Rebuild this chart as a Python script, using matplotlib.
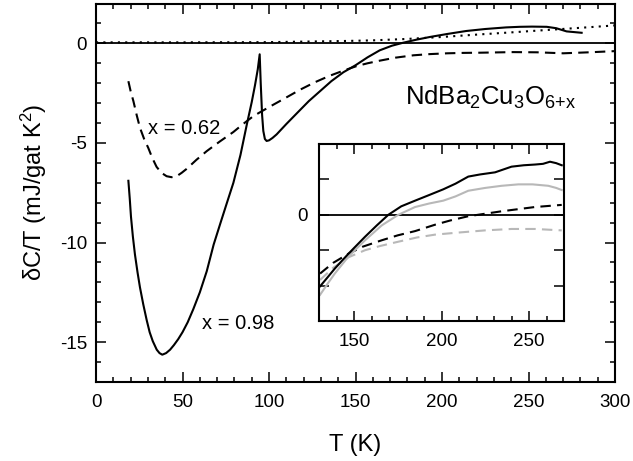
import matplotlib
matplotlib.use("Agg")
import matplotlib.pyplot as plt
from matplotlib.ticker import MultipleLocator, FixedLocator, FixedFormatter

plt.rcParams['font.family'] = ['Liberation Sans', 'DejaVu Sans']
plt.rcParams['mathtext.default'] = 'regular'
plt.rcParams['axes.unicode_minus'] = False

# ---- main panel data ----
T_098 = [18.7, 19.5, 20.2, 21.3, 22.5, 24.0, 25.4, 27.3, 29.3, 31.0, 32.8, 35.1, 36.7, 38.3,
         40.5, 42.8, 45.0, 47.5, 50.0, 53.0, 56.2, 60.0, 64.0, 68.0, 72.0, 75.5, 79.4, 83.5,
         87.1, 90.0, 91.9, 93.5, 94.6, 95.2, 96.0, 96.7, 97.6, 98.6, 100.0, 102.0, 104.4,
         110.0, 117.9, 123.0, 129.5, 136.0, 143.0, 150.0, 157.0, 164.0, 171.0, 177.5,
         185.0, 193.0, 203.0, 214.0, 225.0, 237.0, 245.0, 252.0, 260.5, 266.0, 272.0, 280.7]
dC_098 = [-6.9, -7.8, -8.7, -9.7, -10.6, -11.5, -12.25, -13.1, -13.9, -14.5, -14.95, -15.38, -15.55, -15.63,
          -15.55, -15.38, -15.15, -14.85, -14.5, -14.0, -13.35, -12.5, -11.44, -10.1, -9.0, -8.05, -7.0, -5.6,
          -4.1, -2.95, -2.1, -1.3, -0.55, -2.0, -3.6, -4.4, -4.8, -4.9, -4.87, -4.75, -4.57,
          -4.05, -3.35, -2.9, -2.4, -1.9, -1.45, -1.1, -0.7, -0.35, -0.12, 0.03,
          0.18, 0.32, 0.47, 0.62, 0.72, 0.8, 0.83, 0.84, 0.83, 0.76, 0.6, 0.53]

T_062 = [18.7, 20.0, 21.6, 23.5, 25.4, 27.8, 30.2, 32.5, 35.0, 37.8, 40.8, 43.7, 46.6, 49.5, 52.4,
         58.0, 64.0, 71.5, 79.4, 85.0, 91.0, 100.0, 108.3, 117.9, 126.6, 135.0, 143.0, 150.7,
         157.0, 164.0, 173.0, 183.5, 193.0, 203.0, 212.0, 222.0, 241.0, 255.0, 270.0, 285.0, 300.0]
dC_062 = [-1.9, -2.4, -2.9, -3.6, -4.24, -4.8, -5.25, -5.75, -6.2, -6.5, -6.67, -6.72, -6.67, -6.5, -6.3,
          -5.85, -5.41, -4.93, -4.45, -4.05, -3.65, -3.2, -2.8, -2.33, -1.95, -1.63, -1.37, -1.14,
          -1.0, -0.87, -0.72, -0.6, -0.54, -0.5, -0.48, -0.47, -0.44, -0.45, -0.5, -0.45, -0.39]

T_dot = [0, 50, 100, 145, 160, 179.5, 200, 222, 240, 260.5, 280, 300]
dC_dot = [0.05, 0.05, 0.06, 0.12, 0.15, 0.22, 0.32, 0.45, 0.55, 0.67, 0.78, 0.9]

# ---- inset data ----
Ti_blk = [130.6, 135.0, 139.0, 146.8, 156.3, 163.0, 169.6, 177.0, 184.9, 193.0, 201.0, 208.0, 215.3,
          222.0, 230.6, 240.0, 247.0, 253.4, 258.0, 262.0, 265.5, 268.7]
vi_blk = [-1.01, -0.88, -0.76, -0.55, -0.31, -0.15, 0.0, 0.12, 0.2, 0.28, 0.36, 0.44, 0.54,
          0.57, 0.6, 0.68, 0.7, 0.71, 0.72, 0.75, 0.73, 0.70]
Ti_gry = [130.6, 135.0, 139.0, 146.8, 156.3, 165.8, 175.3, 184.9, 193.0, 201.0, 208.0, 215.3,
          225.0, 234.4, 243.9, 252.0, 261.0, 265.5, 268.7]
vi_gry = [-1.13, -0.97, -0.83, -0.59, -0.36, -0.15, 0.0, 0.11, 0.16, 0.2, 0.26, 0.34,
          0.38, 0.41, 0.43, 0.43, 0.41, 0.38, 0.35]
Ti_bdash = [130.6, 138.0, 146.8, 155.0, 165.8, 175.0, 184.9, 196.3, 205.0, 215.3, 234.4, 253.4, 268.7]
vi_bdash = [-0.83, -0.68, -0.55, -0.45, -0.36, -0.29, -0.23, -0.14, -0.08, -0.02, 0.05, 0.11, 0.14]
Ti_gdash = [130.6, 138.0, 146.8, 156.3, 165.0, 175.3, 186.0, 196.3, 210.0, 224.9, 240.0, 253.4, 268.7]
vi_gdash = [-0.92, -0.75, -0.6, -0.5, -0.44, -0.38, -0.32, -0.28, -0.25, -0.22, -0.2, -0.2, -0.22]

fig = plt.figure(figsize=(6.33, 4.61), dpi=100)
ax = fig.add_axes([0.1517, 0.1714, 0.8199, 0.821])

lw = 1.5
ax.axhline(0, color='black', lw=1.3, zorder=1)
ax.plot(T_dot, dC_dot, color='black', lw=lw, linestyle=(0, (1, 2.5)))
ax.plot(T_062, dC_062, color='black', lw=lw, linestyle=(0, (5, 3)))
ax.plot(T_098, dC_098, color='black', lw=lw)

ax.set_xlim(0, 300)
ax.set_ylim(-17, 2)
ax.xaxis.set_major_locator(MultipleLocator(50))
ax.xaxis.set_minor_locator(MultipleLocator(10))
ax.yaxis.set_major_locator(MultipleLocator(5))
ax.yaxis.set_minor_locator(MultipleLocator(1))
ax.tick_params(which='both', direction='in', top=True, right=True, width=1.1, labelsize=13.5)
ax.tick_params(which='major', length=7)
ax.tick_params(which='minor', length=3.5)
ax.tick_params(axis='x', which='both', pad=9)
ax.tick_params(axis='y', which='both', pad=6.5)
for s in ax.spines.values():
    s.set_linewidth(1.5)

ax.set_xlabel('T (K)', fontsize=17, labelpad=16)
ax.set_ylabel('δC/T (mJ/gat K$^2$)', fontsize=17, labelpad=8)

ax.text(30, -4.3, 'x = 0.62', fontsize=14.5, va='center', ha='left')
ax.text(61.3, -14.07, 'x = 0.98', fontsize=14.5, va='center', ha='left')
ax.text(178.6, -2.7, 'NdBa$_2$Cu$_3$O$_{6{+}x}$', fontsize=18.5, va='center', ha='left')

# inset
ins = fig.add_axes([0.504, 0.3037, 0.387, 0.3839])
ins.axhline(0, color='black', lw=1.3, zorder=1)
ins.plot(Ti_gdash, vi_gdash, color='#b8b8b8', lw=lw, linestyle=(0, (5, 3)))
ins.plot(Ti_bdash, vi_bdash, color='black', lw=lw, linestyle=(0, (5, 3)))
ins.plot(Ti_gry, vi_gry, color='#b8b8b8', lw=lw)
ins.plot(Ti_blk, vi_blk, color='black', lw=lw)
ins.set_xlim(130, 270)
ins.set_ylim(-1.5, 1.0)
ins.xaxis.set_major_locator(MultipleLocator(50))
ins.xaxis.set_minor_locator(MultipleLocator(10))
ins.yaxis.set_major_locator(FixedLocator([-1.0, -0.5, 0.0, 0.5]))
ins.yaxis.set_major_formatter(FixedFormatter(['', '', '0', '']))
ins.tick_params(which='both', direction='in', top=True, right=True, width=1.1, labelsize=13.5)
ins.tick_params(which='major', length=7)
ins.tick_params(which='minor', length=3.5)
ins.tick_params(axis='x', which='both', pad=9)
ins.tick_params(axis='y', which='both', pad=8)
for s in ins.spines.values():
    s.set_linewidth(1.5)

fig.savefig('out.png', dpi=100)
